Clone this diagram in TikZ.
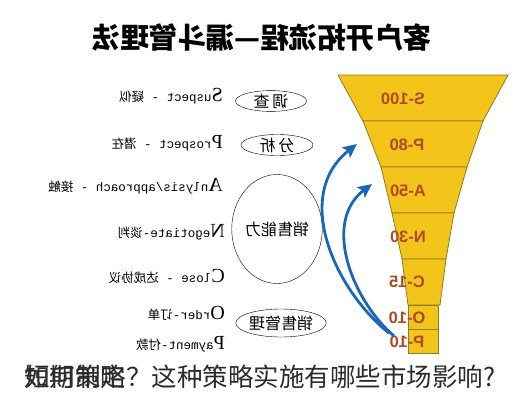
\documentclass[tikz,border=0pt]{standalone}
\usepackage{fontspec}
\usepackage{graphicx}
\setmainfont{Liberation Serif}
\setmonofont{Liberation Mono}
\newfontfamily\cjk{Noto Sans CJK SC}
\newfontfamily\fsans{Liberation Sans}
\usepackage{tikz}
\usetikzlibrary{arrows.meta,shapes.geometric,positioning}
\definecolor{funnelfill}{HTML}{F3C419}
\definecolor{funneledge}{HTML}{8F7D22}
\definecolor{stagetxt}{HTML}{AE4A26}
\definecolor{flowblue}{HTML}{1A66B8}
\definecolor{captxt}{HTML}{2B2B2B}
\newcommand{\mirr}[1]{\reflectbox{#1}}
\newcommand{\capbig}[1]{{\rmfamily\fontsize{20}{20}\selectfont #1}}

\begin{document}
\begin{tikzpicture}[x=1pt, y=-1pt,
    lbl/.style={anchor=east, inner sep=0pt, font=\ttfamily\fontsize{12.5}{12.5}\selectfont},
    oval/.style={draw, ellipse, inner sep=0pt, thin, font=\cjk\fontsize{16}{16}\selectfont},
    seg/.style={fill=funnelfill, draw=funneledge, line width=0.8pt},
    stage/.style={inner sep=0pt, text=stagetxt, font=\fsans\bfseries\fontsize{16.5}{16.5}\selectfont},
    flow/.style={draw=flowblue, line width=2.8pt, -{Stealth[length=14pt, width=13pt, inset=3pt]}},
    caption/.style={anchor=west, inner sep=0pt, text=captxt, font=\cjk\fontsize{25.5}{25.5}\selectfont}]

    \useasboundingbox (0,0) rectangle (531,400);

    % Title (mirrored)
    \node[font=\cjk\bfseries\fontsize{28.5}{28.5}\selectfont] (title) at (262,38) {\mirr{客户开拓流程—漏斗管理法}};

    % Stage labels (left) - mirrored
    \node[lbl] (lSus) at (223,96)  {\mirr{\capbig{S}uspect - {\cjk 疑似}}};
    \node[lbl] (lPro) at (223,143) {\mirr{\capbig{P}rospect - {\cjk 潜在}}};
    \node[lbl] (lAna) at (223,186) {\mirr{\capbig{A}nlysis/approach - {\cjk 接触}}};
    \node[lbl] (lNeg) at (225,232) {\mirr{\capbig{N}egotiate-{\cjk 谈判}}};
    \node[lbl] (lClo) at (225,276) {\mirr{\capbig{C}lose - {\cjk 达成协议}}};
    \node[lbl] (lOrd) at (225,313) {\mirr{\capbig{O}rder-{\cjk 订单}}};
    \node[lbl] (lPay) at (225,344) {\mirr{\capbig{P}ayment-{\cjk 付款}}};

    % Ovals (middle)
    \node[oval, minimum width=71pt, minimum height=19pt] (oDiao) at (271,101) {\mirr{调\,查}};
    \node[oval, minimum width=72pt, minimum height=21pt] (oFen) at (277,145) {\mirr{分\,析}};
    \node[oval, minimum width=71pt, minimum height=109pt] (oNeng) at (277,229) {\mirr{销售能力}};
    \node[oval, minimum width=77pt, minimum height=28pt] (oGuan) at (281,323) {\mirr{销售管理}};

    % Funnel (right)
    \filldraw[seg] (338,75) -- (508,75) -- (483,121) -- (363,121) -- cycle;
    \filldraw[seg] (363,121) -- (483,121) -- (467,167) -- (381,167) -- cycle;
    \filldraw[seg] (381,167) -- (467,167) -- (454,213) -- (392,213) -- cycle;
    \filldraw[seg] (392,213) -- (454,213) -- (446,259) -- (402,259) -- cycle;
    \filldraw[seg] (402,259) -- (446,259) -- (440,305) -- (408,305) -- cycle;
    \filldraw[seg] (408,305) rectangle (438,329);
    \filldraw[seg] (408,329) rectangle (438,353);

    \node[stage] (s100) at (403,99)  {\mirr{S-100}};
    \node[stage] (p80)  at (407,145) {\mirr{P-80}};
    \node[stage] (a50)  at (408,191) {\mirr{A-50}};
    \node[stage] (n30)  at (408,237) {\mirr{N-30}};
    \node[stage] (c15)  at (407,282) {\mirr{C-15}};
    \node[stage] (o10)  at (407,318) {\mirr{O-10}};
    \node[stage] (p10)  at (407,342) {\mirr{P-10}};

    % Arrows
    \coordinate (fromA) at (389,333);
    \coordinate (fromB) at (394,336);
    \coordinate (toP) at (357,144);
    \coordinate (toA) at (372,184);
    \draw[flow] (fromA) .. controls (335,290) and (292,195) .. (toP);
    \draw[flow] (fromB) .. controls (352,300) and (322,222) .. (toA);

    % Caption (overlapping)
    \node[caption] (capA) at (24,377) {如何制定？这种策略实施有哪些市场影响?};
    \node[caption] (capB) at (24,377) {短期策略};

\end{tikzpicture}
\end{document}
